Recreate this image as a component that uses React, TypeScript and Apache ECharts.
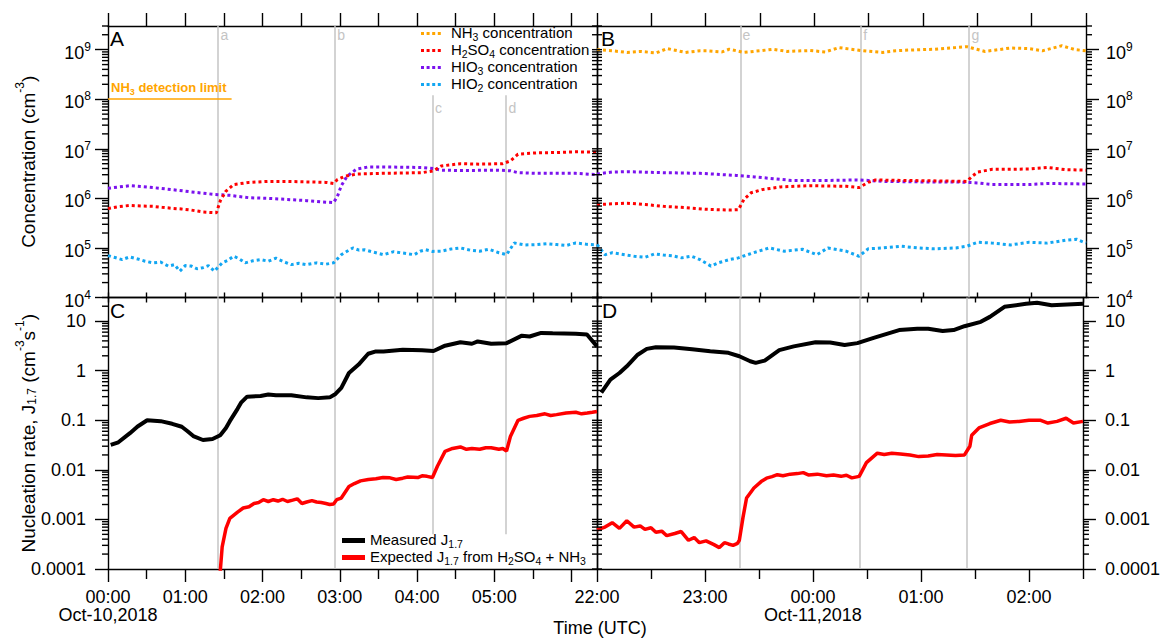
import React, { useEffect, useRef } from 'react';
import * as echarts from 'echarts';

// ---------------- axis extents ----------------
const LEFT_RANGE = [0, 6.33]; // hours, Oct-10
const RIGHT_RANGE = [22, 26.5]; // hours, Oct-10 22:00 -> Oct-11 02:30
const CONC_RANGE = [1e4, 3e9];
const RATE_RANGE = [1e-4, 30];

const leftHourTicks = [0, 1, 2, 3, 4, 5, 6];
const leftHalfTicks = [0.5, 1.5, 2.5, 3.5, 4.5, 5.5];
const leftAllTicks = [0, 0.5, 1, 1.5, 2, 2.5, 3, 3.5, 4, 4.5, 5, 5.5, 6];
const leftLabelHours = [0, 1, 2, 3, 4, 5];
const rightHourTicks = [22, 23, 24, 25, 26];
const rightHalfTicks = [22.5, 23.5, 24.5, 25.5, 26.5];
const rightAllTicks = [22, 22.5, 23, 23.5, 24, 24.5, 25, 25.5, 26, 26.5];
const rightLabelHours = [22, 23, 24, 25, 26];
const dateLabels: Record<number, string> = { 0: 'Oct-10,2018', 24: 'Oct-11,2018' };

const concDecades = [1e4, 1e5, 1e6, 1e7, 1e8, 1e9];
const rateDecades = [1e-4, 1e-3, 1e-2, 0.1, 1, 10];

// event markers [label, hour, kind]
const eventsLeft: [string, number, string][] = [
  ['a', 1.423, 'full'], ['b', 2.935, 'full'], ['c', 4.199, 'short'], ['d', 5.151, 'short'],
];
const eventsRight: [string, number, string][] = [
  ['e', 23.317, 'full'], ['f', 24.428, 'full'], ['g', 25.424, 'full'],
];
const nh3DetectionLimit = 1e8;
const nh3LimitSpan = [0, 1.6];

// ---------------- panel A (Oct-10 00:00-06:20) ----------------
const h2so4A = [
  [0, 6.2e5], [0.134, 6.8e5], [0.284, 7.2e5], [0.432, 7.0e5], [0.582, 6.9e5], [0.70, 6.6e5],
  [0.831, 6.3e5], [0.95, 6.1e5], [1.08, 5.8e5], [1.229, 5.3e5], [1.32, 5.2e5], [1.403, 5.1e5],
  [1.453, 8.9e5], [1.527, 1.4e6], [1.627, 1.9e6], [1.826, 2.1e6], [2.075, 2.2e6], [2.323, 2.2e6],
  [2.572, 2.15e6], [2.821, 2.1e6], [2.92, 2.0e6], [2.97, 2.4e6], [3.07, 2.8e6], [3.219, 3.1e6],
  [3.567, 3.2e6], [3.816, 3.25e6], [4.065, 3.3e6], [4.214, 3.6e6], [4.313, 4.5e6], [4.562, 5.0e6],
  [4.811, 4.9e6], [5.109, 5.0e6], [5.209, 5.7e6], [5.308, 7.8e6], [5.557, 8.3e6], [5.806, 8.4e6],
  [6.055, 8.7e6], [6.33, 8.5e6],
];
const hio3A = [
  [0, 1.6e6], [0.284, 1.8e6], [0.582, 1.65e6], [0.831, 1.5e6], [1.08, 1.35e6], [1.378, 1.2e6],
  [1.577, 1.15e6], [1.826, 1.03e6], [2.075, 1.0e6], [2.323, 0.95e6], [2.572, 0.9e6], [2.771, 0.85e6],
  [2.92, 0.82e6], [2.97, 1.1e6], [3.02, 1.8e6], [3.095, 2.8e6], [3.219, 3.9e6], [3.368, 4.3e6],
  [3.567, 4.3e6], [4.065, 4.2e6], [4.214, 4.0e6], [4.313, 3.7e6], [4.562, 3.65e6], [5.06, 3.7e6],
  [5.209, 3.6e6], [5.308, 3.3e6], [5.557, 3.2e6], [6.055, 3.2e6], [6.33, 3.0e6],
];
const hio2A = [
  [0, 7e4], [0.09, 6.4e4], [0.184, 5.8e4], [0.28, 6.6e4], [0.383, 6e4], [0.48, 5.4e4], [0.582, 5e4],
  [0.68, 5.2e4], [0.781, 4.3e4], [0.86, 4.6e4], [0.93, 3.4e4], [1.0, 4.4e4], [1.08, 4.3e4],
  [1.15, 3.8e4], [1.229, 4e4], [1.30, 4.4e4], [1.378, 3.4e4], [1.478, 5e4], [1.55, 5.6e4],
  [1.627, 6.8e4], [1.70, 6.0e4], [1.776, 5e4], [1.875, 5.5e4], [1.975, 5.8e4], [2.075, 5.4e4],
  [2.174, 6.2e4], [2.27, 5.3e4], [2.373, 4.6e4], [2.47, 4.9e4], [2.572, 4.6e4], [2.70, 5.0e4],
  [2.821, 4.7e4], [2.92, 5e4], [3.02, 7.3e4], [3.169, 1e5], [3.25, 9.0e4], [3.318, 9.2e4],
  [3.44, 8.2e4], [3.567, 7.3e4], [3.70, 8.4e4], [3.816, 7.9e4], [3.965, 7.3e4], [4.04, 8.6e4],
  [4.114, 9.2e4], [4.20, 8.5e4], [4.313, 8.6e4], [4.44, 9.5e4], [4.562, 1e5], [4.69, 9.0e4],
  [4.811, 8.6e4], [4.93, 9.4e4], [5.06, 8e4], [5.159, 7.3e4], [5.259, 1.26e5], [5.40, 1.15e5],
  [5.557, 1.17e5], [5.68, 1.22e5], [5.806, 1.17e5], [5.93, 1.12e5], [6.055, 1.26e5],
  [6.20, 1.18e5], [6.33, 1.15e5],
];

// ---------------- panel B (22:00-02:30) ----------------
const nh3B = [
  [22, 1.0e9], [22.14, 0.95e9], [22.276, 0.88e9], [22.40, 0.92e9], [22.545, 0.86e9], [22.646, 1.05e9],
  [22.814, 0.88e9], [22.95, 0.95e9], [23.015, 0.95e9], [23.15, 0.9e9], [23.217, 1.02e9],
  [23.352, 0.88e9], [23.5, 0.95e9], [23.621, 1.02e9], [23.75, 0.92e9], [23.957, 0.96e9],
  [24.1, 0.9e9], [24.226, 1.1e9], [24.428, 0.96e9], [24.629, 0.88e9], [24.75, 0.95e9],
  [24.865, 0.98e9], [25.1, 1.02e9], [25.302, 1.1e9], [25.403, 1.15e9], [25.571, 0.92e9],
  [25.806, 1.08e9], [25.974, 1.05e9], [26.1, 0.95e9], [26.277, 1.2e9], [26.4, 1.0e9], [26.5, 0.95e9],
];
const h2so4B = [
  [22, 7.5e5], [22.276, 8.0e5], [22.444, 7.5e5], [22.612, 6.9e5], [22.814, 6.5e5], [23.015, 6.0e5],
  [23.217, 5.8e5], [23.301, 5.9e5], [23.352, 9.5e5], [23.419, 1.3e6], [23.52, 1.5e6], [23.688, 1.7e6],
  [23.957, 1.8e6], [24.293, 1.75e6], [24.411, 1.65e6], [24.495, 2.1e6], [24.562, 2.35e6],
  [24.798, 2.3e6], [25.134, 2.25e6], [25.403, 2.2e6], [25.453, 2.8e6], [25.504, 3.4e6],
  [25.638, 3.85e6], [25.974, 3.9e6], [26.143, 4.2e6], [26.311, 3.8e6], [26.5, 3.7e6],
];
const hio3B = [
  [22, 3.1e6], [22.141, 3.4e6], [22.276, 3.45e6], [22.612, 3.3e6], [22.948, 3.2e6], [23.284, 2.9e6],
  [23.453, 2.7e6], [23.621, 2.5e6], [23.789, 2.3e6], [24.125, 2.3e6], [24.394, 2.35e6],
  [24.495, 2.3e6], [24.629, 2.2e6], [24.966, 2.15e6], [25.302, 2.15e6], [25.403, 2.1e6],
  [25.504, 2.05e6], [25.638, 1.9e6], [25.974, 1.9e6], [26.143, 2.0e6], [26.5, 1.95e6],
];
const hio2B = [
  [22, 1.17e5], [22.074, 7.3e4], [22.14, 8.0e4], [22.208, 7.6e4], [22.343, 6.8e4], [22.444, 6.5e4],
  [22.53, 7.6e4], [22.612, 7.2e4], [22.70, 6.9e4], [22.780, 6.3e4], [22.87, 6.8e4], [22.948, 5.8e4],
  [23.049, 4.3e4], [23.116, 5.0e4], [23.217, 5.8e4], [23.301, 6.3e4], [23.385, 7.3e4],
  [23.486, 8.6e4], [23.587, 1.0e5], [23.722, 8.6e4], [23.89, 9.4e4], [24.024, 7.3e4],
  [24.125, 1.0e5], [24.293, 8.6e4], [24.411, 6.8e4], [24.495, 9.6e4], [24.629, 1.0e5],
  [24.798, 1.08e5], [24.966, 1.0e5], [25.1, 9.6e4], [25.302, 1.0e5], [25.403, 1.08e5],
  [25.504, 1.3e5], [25.638, 1.25e5], [25.806, 1.15e5], [25.974, 1.3e5], [26.143, 1.25e5],
  [26.311, 1.43e5], [26.412, 1.5e5], [26.5, 1.25e5],
];

// ---------------- panel C (nucleation rate, Oct-10) ----------------
const measuredA = [
  [0.035, 0.032], [0.134, 0.036], [0.284, 0.055], [0.383, 0.075], [0.507, 0.1], [0.682, 0.096],
  [0.831, 0.085], [0.955, 0.074], [1.03, 0.06], [1.104, 0.048], [1.229, 0.04], [1.353, 0.042],
  [1.453, 0.05], [1.527, 0.07], [1.577, 0.096], [1.677, 0.17], [1.726, 0.23], [1.801, 0.3],
  [1.975, 0.31], [2.075, 0.33], [2.174, 0.32], [2.373, 0.32], [2.572, 0.29], [2.721, 0.28],
  [2.871, 0.29], [2.945, 0.34], [3.02, 0.45], [3.119, 0.9], [3.244, 1.33], [3.368, 2.2],
  [3.468, 2.45], [3.567, 2.45], [3.816, 2.65], [4.065, 2.6], [4.214, 2.5], [4.363, 3.2],
  [4.562, 3.75], [4.711, 3.5], [4.786, 3.9], [4.96, 3.5], [5.159, 3.6], [5.358, 5.1], [5.458, 4.9],
  [5.607, 5.8], [5.756, 5.7], [6.055, 5.6], [6.2, 5.4], [6.33, 3.1],
];
const expectedA = [
  [1.44, 5e-5], [1.478, 2.8e-4], [1.527, 6.6e-4], [1.577, 1.05e-3], [1.677, 1.4e-3], [1.75, 1.7e-3],
  [1.826, 1.8e-3], [1.89, 2.1e-3], [1.95, 2.2e-3], [2.01, 2.5e-3], [2.075, 2.3e-3], [2.14, 2.5e-3],
  [2.2, 2.35e-3], [2.26, 2.55e-3], [2.323, 2.3e-3], [2.39, 2.45e-3], [2.45, 2.6e-3], [2.51, 2.1e-3],
  [2.572, 2.25e-3], [2.64, 2.4e-3], [2.7, 2.25e-3], [2.76, 2.2e-3], [2.821, 2.1e-3], [2.87, 2.0e-3],
  [2.92, 2.05e-3], [2.96, 2.5e-3], [3.02, 2.7e-3], [3.119, 4.6e-3], [3.19, 5.3e-3], [3.269, 6e-3],
  [3.37, 6.4e-3], [3.468, 6.6e-3], [3.56, 7.0e-3], [3.65, 6.9e-3], [3.73, 6.4e-3], [3.816, 6.8e-3],
  [3.88, 7.2e-3], [3.95, 7.1e-3], [4.01, 7.0e-3], [4.065, 7.6e-3], [4.13, 7.4e-3], [4.20, 7.0e-3],
  [4.264, 0.0118], [4.363, 0.0236], [4.46, 0.027], [4.562, 0.029], [4.64, 0.026], [4.711, 0.027],
  [4.811, 0.026], [4.89, 0.028], [4.96, 0.028], [5.06, 0.026], [5.11, 0.027], [5.159, 0.024],
  [5.209, 0.047], [5.308, 0.1], [5.38, 0.11], [5.458, 0.12], [5.55, 0.125], [5.657, 0.135],
  [5.73, 0.125], [5.806, 0.13], [5.93, 0.14], [6.055, 0.145], [6.13, 0.135], [6.204, 0.14],
  [6.27, 0.145], [6.33, 0.15],
];

// ---------------- panel D (nucleation rate, Oct-10/11) ----------------
const measuredB = [
  [22.04, 0.36], [22.124, 0.66], [22.208, 0.9], [22.276, 1.23], [22.377, 2.1], [22.461, 2.76],
  [22.545, 2.98], [22.713, 2.95], [22.881, 2.7], [23.049, 2.47], [23.217, 2.3], [23.318, 1.96],
  [23.419, 1.55], [23.469, 1.44], [23.553, 1.6], [23.688, 2.6], [23.822, 3.1], [24.024, 3.76],
  [24.159, 3.7], [24.293, 3.3], [24.411, 3.6], [24.562, 4.6], [24.798, 6.6], [24.966, 7.0],
  [25.067, 7.0], [25.201, 6.3], [25.302, 6.6], [25.403, 7.9], [25.554, 9.7], [25.638, 12.2],
  [25.773, 19.5], [25.974, 22.4], [26.075, 23.5], [26.21, 21], [26.5, 22.5],
];
const expectedB = [
  [22, 6.2e-4], [22.074, 7e-4], [22.141, 8.6e-4], [22.208, 6.6e-4], [22.276, 9.4e-4], [22.343, 7e-4],
  [22.40, 7.4e-4], [22.444, 6.3e-4], [22.50, 6.8e-4], [22.545, 5.5e-4], [22.60, 5.8e-4],
  [22.646, 4.7e-4], [22.72, 5.2e-4], [22.780, 5.7e-4], [22.847, 3.8e-4], [22.90, 4.3e-4],
  [22.948, 3.4e-4], [23.01, 3.7e-4], [23.083, 3.1e-4], [23.133, 2.7e-4], [23.18, 3.4e-4],
  [23.217, 3.2e-4], [23.26, 3.0e-4], [23.301, 3.3e-4], [23.318, 3.8e-4], [23.352, 1.1e-3],
  [23.385, 2.7e-3], [23.453, 4.3e-3], [23.52, 5.8e-3], [23.57, 6.8e-3], [23.621, 7.3e-3],
  [23.67, 8.0e-3], [23.722, 7.6e-3], [23.79, 8.2e-3], [23.856, 8.4e-3], [23.91, 8.8e-3],
  [23.957, 7.9e-3], [24.04, 8.2e-3], [24.125, 7.6e-3], [24.19, 7.9e-3], [24.26, 7.4e-3],
  [24.31, 7.8e-3], [24.36, 6.9e-3], [24.428, 7.4e-3], [24.495, 0.014], [24.596, 0.0217],
  [24.66, 0.0205], [24.73, 0.0217], [24.81, 0.021], [24.898, 0.02], [24.98, 0.0185],
  [25.067, 0.019], [25.15, 0.0205], [25.235, 0.02], [25.32, 0.0195], [25.403, 0.02], [25.453, 0.03],
  [25.47, 0.05], [25.537, 0.07], [25.638, 0.086], [25.739, 0.1], [25.82, 0.092], [25.907, 0.095],
  [26.0, 0.1], [26.109, 0.1], [26.176, 0.088], [26.26, 0.095], [26.344, 0.11], [26.412, 0.088],
  [26.5, 0.095],
];

// ---------------- names & styling ----------------
const NAMES = {
  nh3: 'NH3 concentration',
  h2so4: 'H2SO4 concentration',
  hio3: 'HIO3 concentration',
  hio2: 'HIO2 concentration',
  meas: 'Measured J1.7',
  exp: 'Expected J1.7 from H2SO4 + NH3',
};
const legendRich: Record<string, string> = {
  [NAMES.nh3]: '{q|NH}{u|3}{n| concentration}',
  [NAMES.h2so4]: '{q|H}{u|2}{n|SO}{u|4}{n| concentration}',
  [NAMES.hio3]: '{q|HIO}{u|3}{n| concentration}',
  [NAMES.hio2]: '{q|HIO}{u|2}{n| concentration}',
  [NAMES.meas]: '{n|Measured J}{u|1.7}',
  [NAMES.exp]: '{n|Expected J}{u|1.7}{n| from H}{u|2}{n|SO}{u|4}{n| + NH}{u|3}',
};

const FONT = '"Liberation Sans", Arial, Helvetica, sans-serif';
const COLORS = { nh3: '#ffa500', h2so4: '#ff0000', hio3: '#7b12ee', hio2: '#12a6f2', meas: '#000000', exp: '#ff0000', event: '#c4c4c4', eventText: '#c4c4c4' };
const DOT_ICON = 'path://M0 0h3v3H0z M5.6 0h3v3h-3z M11.2 0h3v3h-3z M16.8 0h3v3h-3z';
const AXIS_W = 1.4;

const minorOf = (decades: number[], max: number) => {
  const out: number[] = [];
  decades.forEach((d) => { for (let k = 2; k <= 9; k++) { const v = k * d; if (v <= max * 1.0000001) out.push(v); } });
  return out;
};
const concMinor = minorOf(concDecades, CONC_RANGE[1]);
const rateMinor = minorOf(rateDecades, RATE_RANGE[1]);

const hourLabel = (v: number) => {
  const r = Math.round(v);
  const h = ((r % 24) + 24) % 24;
  const s = (h < 10 ? '0' : '') + h + ':00';
  return dateLabels[r] ? s + '\n' + dateLabels[r] : s;
};
const powLabel = (v: number) => `{m|10}{p|${Math.round(Math.log10(v))}}`;
const rateLabel = (v: number) => String(parseFloat(v.toPrecision(2)));

const lineOn = { show: true, onZero: false, lineStyle: { color: '#000', width: AXIS_W } };
const lineOff = { show: false, onZero: false };
const tickStyle = { color: '#000', width: AXIS_W };

function xAx(gridIndex: number, range: number[], o: any) {
  return {
    type: 'value', gridIndex, min: range[0], max: range[1], position: o.position || 'bottom',
    splitLine: { show: false },
    axisLine: o.line === false ? lineOff : lineOn,
    axisTick: { show: true, customValues: o.ticks, inside: !!o.inside, length: o.len, lineStyle: tickStyle },
    axisLabel: o.labels
      ? { show: true, customValues: o.labels, formatter: hourLabel, margin: 19, fontSize: 18, lineHeight: 18, color: '#000', fontFamily: FONT, hideOverlap: false }
      : { show: false },
  };
}

const powRich = {
  m: { fontSize: 18, lineHeight: 18, padding: [6, 0, 0, 0], fontFamily: FONT, color: '#000' },
  p: { fontSize: 12, lineHeight: 12, verticalAlign: 'top', fontFamily: FONT, color: '#000' },
};

function yAx(gridIndex: number, range: number[], o: any) {
  const ax: any = {
    type: 'log', logBase: 10, gridIndex, min: range[0], max: range[1], position: o.position,
    splitLine: { show: false }, minorTick: { show: false }, minorSplitLine: { show: false },
    axisLine: lineOn,
    axisTick: o.ticks
      ? { show: true, customValues: o.ticks, inside: false, length: 13, lineStyle: tickStyle }
      : { show: false },
    axisLabel: o.label ? { show: true, fontSize: 18, color: '#000', fontFamily: FONT, hideOverlap: false, ...o.label } : { show: false },
  };
  if (o.name) {
    ax.name = o.name;
    ax.nameLocation = 'middle';
    ax.nameRotate = 90;
    ax.nameGap = o.nameGap;
    ax.nameMoveOverlap = false;
    ax.nameTextStyle = {
      fontSize: 19, color: '#000', fontFamily: FONT,
      rich: {
        n: { fontSize: 19, padding: [5, 0, 0, 0], fontFamily: FONT, color: '#000' },
        p: { fontSize: 12, lineHeight: 12, verticalAlign: 'top', fontFamily: FONT, color: '#000' },
        u: { fontSize: 12, lineHeight: 12, verticalAlign: 'bottom', fontFamily: FONT, color: '#000' },
      },
    };
  }
  return ax;
}

// short tick marks drawn on a vertical axis edge through the axis scales
const tickMarks = (xi: number, yi: number, xEdge: number, values: number[], len: number) => ({
  type: 'custom', xAxisIndex: xi, yAxisIndex: yi, silent: true, clip: false, z: 6,
  data: values.map((v) => [xEdge, v]),
  encode: { x: 0, y: 1 },
  renderItem: (_p: any, api: any) => {
    const pt = api.coord([api.value(0), api.value(1)]);
    return {
      type: 'line',
      shape: { x1: pt[0], y1: pt[1], x2: pt[0] + len, y2: pt[1] },
      style: { stroke: '#000', lineWidth: AXIS_W },
    };
  },
});

const concLine = (name: string, data: number[][], color: string, xi: number, yi: number, extra: any = {}) => ({
  type: 'line', name, data, xAxisIndex: xi, yAxisIndex: yi, symbol: 'none', showSymbol: false, color,
  lineStyle: { color, width: 3, type: [3, 3] }, z: 3, silent: true, ...extra,
});
const rateLine = (name: string, data: number[][], color: string, width: number, xi: number, yi: number, extra: any = {}) => ({
  type: 'line', name, data, xAxisIndex: xi, yAxisIndex: yi, symbol: 'none', showSymbol: false, color,
  lineStyle: { color, width, type: 'solid' }, z: name === NAMES.meas ? 4 : 3, silent: true, ...extra,
});

const SHORT_TOP_CONC = 1.2e8;
const SHORT_BOTTOM_RATE = 5e-4;
const LETTER_Y_TOP = 1.95e9;
const LETTER_Y_SHORT = 6.8e7;

const eventLines = (events: [string, number, string][], top: boolean, extra: any[] = []) => ({
  silent: true, symbol: ['none', 'none'], z: 1, animation: false,
  label: { show: false },
  emphasis: { disabled: true },
  lineStyle: { color: COLORS.event, width: 1.5, type: 'solid' },
  data: [
    ...events.map(([, t, kind]) => (kind === 'full'
      ? { xAxis: t }
      : top
        ? [{ coord: [t, SHORT_TOP_CONC] }, { coord: [t, CONC_RANGE[0]] }]
        : [{ coord: [t, RATE_RANGE[1]] }, { coord: [t, SHORT_BOTTOM_RATE] }])),
    ...extra,
  ],
});
const eventLetters = (events: [string, number, string][]) => ({
  silent: true, symbol: 'circle', symbolSize: 1, z: 1,
  itemStyle: { color: 'rgba(0,0,0,0)' },
  label: { show: true, position: 'right', distance: 2, formatter: '{b}', color: COLORS.eventText, fontSize: 14, fontFamily: FONT },
  data: events.map(([n, t, kind]) => ({ name: n, coord: [t, kind === 'full' ? LETTER_Y_TOP : LETTER_Y_SHORT] })),
});

const nh3LimitItem = [
  {
    coord: [nh3LimitSpan[0], nh3DetectionLimit],
    lineStyle: { color: COLORS.nh3, width: 1.5, type: 'solid' },
    label: {
      show: true, position: 'insideStartTop', distance: 3,
      formatter: '{n|NH}{u|3}{n| detection limit}',
      rich: {
        n: { fontSize: 13, fontWeight: 'bold', color: COLORS.nh3, fontFamily: FONT, padding: [0, 0, 2, 0] },
        u: { fontSize: 9, fontWeight: 'bold', color: COLORS.nh3, fontFamily: FONT, verticalAlign: 'bottom', lineHeight: 9 },
      },
    },
  },
  { coord: [nh3LimitSpan[1], nh3DetectionLimit] },
];

const GRIDS = [
  { left: 108, top: 26, width: 489, height: 271.5 },
  { left: 597, top: 26, width: 489, height: 271.5 },
  { left: 108, top: 297.5, width: 489, height: 271.5 },
  { left: 597, top: 297.5, width: 489, height: 271.5 },
];

const legendTextRich = {
  q: { fontSize: 15, padding: [0, 0, 2, 5], fontFamily: FONT, color: '#000' },
  n: { fontSize: 15, padding: [0, 0, 2, 0], fontFamily: FONT, color: '#000' },
  u: { fontSize: 10.5, lineHeight: 11, verticalAlign: 'bottom', fontFamily: FONT, color: '#000' },
};

const panelLetter = (t: string, x: number, y: number) => ({
  type: 'text', x, y, z: 10,
  style: { text: t, fontSize: 21, fontFamily: FONT, fill: '#000', align: 'left', verticalAlign: 'top' },
});

function buildOption() {
  const xAxis = [
    xAx(0, LEFT_RANGE, { ticks: leftAllTicks, inside: true, len: 5 }), // 0 A bottom
    xAx(0, LEFT_RANGE, { ticks: leftAllTicks, len: 13, position: 'top' }), // 1 A top
    xAx(1, RIGHT_RANGE, { ticks: rightAllTicks, inside: true, len: 5 }), // 2 B bottom
    xAx(1, RIGHT_RANGE, { ticks: rightAllTicks, len: 13, position: 'top' }), // 3 B top
    xAx(2, LEFT_RANGE, { ticks: leftHourTicks, len: 13, labels: leftLabelHours }), // 4 C bottom
    xAx(2, LEFT_RANGE, { ticks: leftHalfTicks, len: 10, line: false }), // 5 C bottom minor
    xAx(2, LEFT_RANGE, { ticks: leftAllTicks, inside: true, len: 5, position: 'top' }), // 6 C top
    xAx(3, RIGHT_RANGE, { ticks: rightHourTicks, len: 13, labels: rightLabelHours }), // 7 D bottom
    xAx(3, RIGHT_RANGE, { ticks: rightHalfTicks, len: 10, line: false }), // 8 D bottom minor
    xAx(3, RIGHT_RANGE, { ticks: rightAllTicks, inside: true, len: 5, position: 'top' }), // 9 D top
  ];
  const concAll = [...concDecades, ...concMinor];
  const rateAll = [...rateDecades, ...rateMinor];
  const yAxis = [
    yAx(0, CONC_RANGE, {
      position: 'left', ticks: concDecades,
      label: { customValues: concDecades, formatter: powLabel, margin: 17, rich: powRich },
      name: '{n|Concentration (cm}{p|-3}{n|)}', nameGap: 70,
    }), // 0
    yAx(0, CONC_RANGE, { position: 'right' }), // 1
    yAx(1, CONC_RANGE, { position: 'left' }), // 2
    yAx(1, CONC_RANGE, {
      position: 'right', ticks: concDecades,
      label: { customValues: concDecades, formatter: powLabel, margin: 20, rich: powRich },
    }), // 3
    yAx(2, RATE_RANGE, {
      position: 'left', ticks: rateDecades,
      label: { customValues: rateDecades, formatter: rateLabel, margin: 22 },
      name: '{n|Nucleation rate, J}{u|1.7}{n| (cm}{p|-3}{n|s}{p|-1}{n|)}', nameGap: 70,
    }), // 4
    yAx(2, RATE_RANGE, { position: 'right' }), // 5
    yAx(3, RATE_RANGE, { position: 'left' }), // 6
    yAx(3, RATE_RANGE, {
      position: 'right', ticks: rateDecades,
      label: { customValues: rateDecades, formatter: rateLabel, margin: 22 },
    }), // 7
  ];

  const series: any[] = [
    // Panel A
    concLine(NAMES.hio2, hio2A, COLORS.hio2, 0, 0, { markLine: eventLines(eventsLeft, true, [nh3LimitItem]), markPoint: eventLetters(eventsLeft) }),
    concLine(NAMES.hio3, hio3A, COLORS.hio3, 0, 0),
    concLine(NAMES.h2so4, h2so4A, COLORS.h2so4, 0, 0),
    // Panel B
    concLine(NAMES.hio2, hio2B, COLORS.hio2, 2, 3, { markLine: eventLines(eventsRight, true), markPoint: eventLetters(eventsRight) }),
    concLine(NAMES.hio3, hio3B, COLORS.hio3, 2, 3),
    concLine(NAMES.h2so4, h2so4B, COLORS.h2so4, 2, 3),
    concLine(NAMES.nh3, nh3B, COLORS.nh3, 2, 3),
    // Panel C
    rateLine(NAMES.exp, expectedA, COLORS.exp, 3.5, 4, 4, { markLine: eventLines(eventsLeft, false) }),
    rateLine(NAMES.meas, measuredA, COLORS.meas, 4, 4, 4),
    // Panel D
    rateLine(NAMES.exp, expectedB, COLORS.exp, 3.5, 7, 7, { markLine: eventLines(eventsRight, false) }),
    rateLine(NAMES.meas, measuredB, COLORS.meas, 4, 7, 7),
    // minor / inner tick marks on the vertical edges
    tickMarks(0, 0, LEFT_RANGE[0], concMinor, -6),
    tickMarks(0, 0, LEFT_RANGE[1], concAll, -5),
    tickMarks(2, 3, RIGHT_RANGE[0], concAll, 5),
    tickMarks(2, 3, RIGHT_RANGE[1], concMinor, 6),
    tickMarks(4, 4, LEFT_RANGE[0], rateMinor, -6),
    tickMarks(4, 4, LEFT_RANGE[1], rateAll, -5),
    tickMarks(7, 7, RIGHT_RANGE[0], rateAll, 5),
    tickMarks(7, 7, RIGHT_RANGE[1], rateMinor, 6),
  ];

  return {
    animation: false,
    backgroundColor: '#fff',
    textStyle: { fontFamily: FONT },
    grid: GRIDS,
    xAxis,
    yAxis,
    legend: [
      {
        data: [NAMES.nh3, NAMES.h2so4, NAMES.hio3, NAMES.hio2].map((n) => ({ name: n, icon: DOT_ICON })),
        orient: 'vertical', left: 421, top: 25, itemWidth: 20, itemHeight: 3, itemGap: 0,
        selectedMode: false, padding: 0,
        formatter: (n: string) => legendRich[n],
        textStyle: { color: '#000', fontSize: 15, fontFamily: FONT, rich: legendTextRich },
      },
      {
        data: [NAMES.meas, NAMES.exp].map((n) => ({ name: n, icon: 'rect' })),
        orient: 'vertical', left: 342, top: 532, itemWidth: 23, itemHeight: 5, itemGap: 0,
        selectedMode: false, padding: 0,
        formatter: (n: string) => legendRich[n],
        textStyle: { color: '#000', fontSize: 15, fontFamily: FONT, rich: legendTextRich },
      },
    ],
    graphic: [
      panelLetter('A', 110, 28),
      panelLetter('B', 601, 28),
      panelLetter('C', 110, 300),
      panelLetter('D', 602, 300),
      {
        type: 'text', x: 600, y: 628, z: 10,
        style: { text: 'Time (UTC)', fontSize: 18, fontFamily: FONT, fill: '#000', align: 'center', verticalAlign: 'middle' },
      },
    ],
    series,
  };
}

export default function App() {
  const ref = useRef<HTMLDivElement>(null);
  useEffect(() => {
    const chart = echarts.init(ref.current as HTMLDivElement, null, { renderer: 'svg' });
    chart.setOption(buildOption() as any);
    return () => chart.dispose();
  }, []);
  return (
    <div
      ref={ref}
      style={{ position: 'fixed', left: 0, top: 0, width: 1163, height: 638, background: '#fff' }}
    />
  );
}
